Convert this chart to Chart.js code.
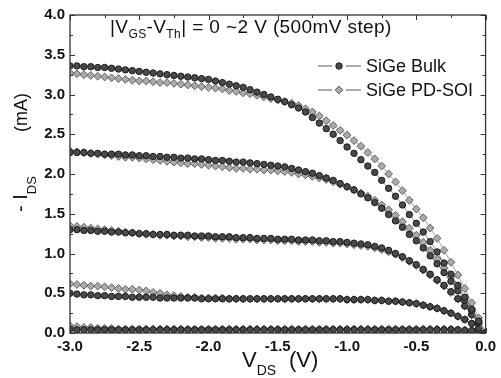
<!DOCTYPE html>
<html>
<head>
<meta charset="utf-8">
<script src="https://cdn.jsdelivr.net/npm/chart.js@4.4.0/dist/chart.umd.min.js"></script>
<style>
  html, body { margin: 0; padding: 0; background: #fff; }
  #wrap { width: 501px; height: 378px; }
</style>
</head>
<body>
<div id="wrap"><canvas id="ivChart" width="501" height="378"></canvas></div>
<script>
// drain voltage sweep (V)
const vds = [
  -3.00,-2.95,-2.90,-2.85,-2.80,-2.75,-2.70,-2.65,-2.60,-2.55,
  -2.50,-2.45,-2.40,-2.35,-2.30,-2.25,-2.20,-2.15,-2.10,-2.05,
  -2.00,-1.95,-1.90,-1.85,-1.80,-1.75,-1.70,-1.65,-1.60,-1.55,
  -1.50,-1.45,-1.40,-1.35,-1.30,-1.25,-1.20,-1.15,-1.10,-1.05,
  -1.00,-0.95,-0.90,-0.85,-0.80,-0.75,-0.70,-0.65,-0.60,-0.55,
  -0.50,-0.45,-0.40,-0.35,-0.30,-0.25,-0.20,-0.15,-0.10,-0.05,
  0.00
];

// -I_DS (mA), SiGe Bulk, |VGS-VTh| = 2.0 / 1.5 / 1.0 / 0.5 / 0 V
const bulk20 = [
  3.36,3.36,3.35,3.35,3.34,3.34,3.33,3.32,3.31,3.30,
  3.29,3.28,3.27,3.26,3.25,3.24,3.23,3.22,3.21,3.20,
  3.19,3.17,3.15,3.13,3.11,3.09,3.06,3.03,3.00,2.97,
  2.94,2.91,2.87,2.83,2.78,2.71,2.64,2.57,2.50,2.42,
  2.34,2.26,2.18,2.10,2.02,1.92,1.82,1.72,1.61,1.49,
  1.38,1.27,1.15,1.02,0.88,0.74,0.60,0.45,0.30,0.15,
  0.00
];
const bulk15 = [
  2.27,2.27,2.27,2.26,2.26,2.25,2.25,2.25,2.24,2.24,
  2.23,2.23,2.22,2.22,2.21,2.21,2.20,2.20,2.19,2.19,
  2.18,2.17,2.17,2.16,2.15,2.15,2.14,2.13,2.12,2.11,
  2.10,2.09,2.07,2.05,2.03,2.01,1.98,1.95,1.92,1.88,
  1.84,1.80,1.75,1.70,1.64,1.57,1.49,1.41,1.33,1.24,
  1.16,1.07,0.97,0.87,0.76,0.65,0.53,0.41,0.28,0.14,
  0.00
];
const bulk10 = [
  1.30,1.30,1.29,1.29,1.28,1.28,1.27,1.27,1.26,1.26,
  1.25,1.25,1.24,1.24,1.24,1.23,1.23,1.23,1.22,1.22,
  1.22,1.21,1.21,1.21,1.20,1.20,1.20,1.19,1.19,1.19,
  1.18,1.18,1.18,1.17,1.17,1.17,1.16,1.16,1.15,1.15,
  1.14,1.13,1.12,1.11,1.09,1.07,1.04,1.00,0.96,0.91,
  0.86,0.80,0.74,0.67,0.60,0.52,0.43,0.34,0.23,0.12,
  0.00
];
const bulk05 = [
  0.50,0.49,0.48,0.48,0.47,0.47,0.46,0.46,0.46,0.45,
  0.45,0.45,0.45,0.44,0.44,0.44,0.44,0.44,0.44,0.43,
  0.43,0.43,0.43,0.43,0.43,0.43,0.43,0.43,0.43,0.43,
  0.43,0.43,0.43,0.43,0.43,0.43,0.43,0.43,0.43,0.43,
  0.42,0.42,0.42,0.42,0.41,0.41,0.40,0.40,0.39,0.38,
  0.37,0.35,0.33,0.31,0.28,0.25,0.21,0.17,0.12,0.06,
  0.00
];
const bulk00 = [
  0.05,0.04,0.04,0.04,0.04,0.04,0.04,0.04,0.04,0.04,
  0.04,0.04,0.04,0.04,0.04,0.04,0.04,0.04,0.04,0.04,
  0.04,0.04,0.04,0.04,0.04,0.04,0.04,0.04,0.04,0.04,
  0.04,0.04,0.04,0.04,0.04,0.04,0.04,0.04,0.04,0.04,
  0.04,0.04,0.04,0.04,0.04,0.04,0.04,0.04,0.04,0.04,
  0.04,0.04,0.04,0.04,0.04,0.04,0.04,0.03,0.03,0.02,
  0.00
];

// -I_DS (mA), SiGe PD-SOI
const soi20 = [
  3.27,3.26,3.25,3.24,3.23,3.22,3.21,3.20,3.19,3.18,
  3.17,3.17,3.16,3.15,3.15,3.14,3.13,3.12,3.11,3.10,
  3.09,3.08,3.07,3.05,3.04,3.02,3.01,2.99,2.97,2.95,
  2.93,2.91,2.89,2.86,2.82,2.78,2.73,2.67,2.61,2.55,
  2.49,2.42,2.35,2.27,2.19,2.10,2.00,1.90,1.79,1.67,
  1.56,1.45,1.32,1.19,1.04,0.89,0.73,0.56,0.38,0.19,
  0.00
];
const soi15 = [
  2.29,2.28,2.27,2.26,2.25,2.24,2.23,2.22,2.21,2.21,
  2.20,2.19,2.18,2.17,2.16,2.15,2.14,2.13,2.13,2.12,
  2.11,2.10,2.09,2.08,2.07,2.07,2.06,2.06,2.05,2.05,
  2.04,2.03,2.02,2.00,1.99,1.97,1.95,1.93,1.90,1.87,
  1.84,1.80,1.76,1.72,1.67,1.61,1.55,1.48,1.40,1.32,
  1.23,1.14,1.04,0.93,0.82,0.70,0.57,0.44,0.30,0.15,
  0.00
];
const soi10 = [
  1.35,1.34,1.33,1.32,1.31,1.30,1.29,1.28,1.27,1.26,
  1.25,1.24,1.24,1.23,1.23,1.22,1.22,1.21,1.21,1.20,
  1.20,1.19,1.19,1.19,1.18,1.18,1.18,1.17,1.17,1.17,
  1.16,1.16,1.16,1.15,1.15,1.15,1.14,1.14,1.13,1.13,
  1.12,1.11,1.10,1.09,1.07,1.05,1.02,0.99,0.95,0.90,
  0.85,0.79,0.73,0.66,0.59,0.51,0.43,0.34,0.23,0.12,
  0.00
];
const soi05 = [
  0.62,0.61,0.60,0.59,0.59,0.58,0.57,0.56,0.55,0.55,
  0.54,0.53,0.51,0.50,0.48,0.47,0.46,0.45,0.45,0.44,
  0.44,0.44,0.44,0.43,0.43,0.43,0.43,0.43,0.43,0.43,
  0.43,0.43,0.43,0.43,0.43,0.43,0.43,0.43,0.43,0.43,
  0.42,0.42,0.42,0.42,0.41,0.41,0.40,0.40,0.39,0.38,
  0.37,0.35,0.33,0.31,0.28,0.25,0.21,0.17,0.12,0.06,
  0.00
];
const soi00 = [
  0.09,0.08,0.07,0.07,0.06,0.06,0.06,0.05,0.05,0.05,
  0.05,0.05,0.05,0.05,0.05,0.05,0.05,0.05,0.05,0.05,
  0.05,0.05,0.05,0.05,0.05,0.05,0.05,0.05,0.05,0.05,
  0.05,0.05,0.05,0.05,0.05,0.05,0.05,0.05,0.05,0.05,
  0.05,0.05,0.05,0.05,0.05,0.05,0.05,0.05,0.05,0.05,
  0.05,0.05,0.05,0.05,0.05,0.05,0.04,0.04,0.03,0.02,
  0.00
];

const seriesNames = ['SiGe Bulk', 'SiGe PD-SOI'];
const bulkCurves = [bulk20, bulk15, bulk10, bulk05, bulk00];
const soiCurves = [soi20, soi15, soi10, soi05, soi00];

const FONT = '"Liberation Sans", Arial, sans-serif';

function toPoints(values) {
  return values.map((v, i) => ({ x: vds[i], y: v }));
}

const bulkStyle = {
  pointStyle: 'circle', pointRadius: 3.2,
  pointBackgroundColor: '#4a4a4a', pointBorderColor: '#1a1a1a', pointBorderWidth: 1,
  borderColor: '#777', borderWidth: 0.8, showLine: true
};
const soiStyle = {
  pointStyle: 'rectRot', pointRadius: 3.9,
  pointBackgroundColor: '#aaaaaa', pointBorderColor: '#606060', pointBorderWidth: 1,
  borderColor: '#888', borderWidth: 0.8, showLine: true
};

const datasets = [];
bulkCurves.forEach(c => datasets.push(Object.assign({ label: seriesNames[0], data: toPoints(c) }, bulkStyle)));
soiCurves.forEach(c => datasets.push(Object.assign({ label: seriesNames[1], data: toPoints(c) }, soiStyle)));

// frame + inward ticks on all four sides
const frameTicks = {
  id: 'frameTicks',
  afterDatasetsDraw(chart) {
    const { ctx, chartArea: a, scales: { x, y } } = chart;
    ctx.save();
    ctx.strokeStyle = '#333';
    ctx.lineWidth = 1.3;
    ctx.strokeRect(a.left, a.top, a.right - a.left, a.bottom - a.top);
    ctx.lineWidth = 1;
    ctx.beginPath();
    for (let v = 0; v <= 4.001; v += 0.25) {
      const py = Math.round(y.getPixelForValue(v)) + 0.5;
      const len = (Math.round(v * 4) % 2 === 0) ? 5 : 3;
      ctx.moveTo(a.left, py); ctx.lineTo(a.left + len, py);
      ctx.moveTo(a.right, py); ctx.lineTo(a.right - len, py);
    }
    for (let v = -3; v <= 0.001; v += 0.25) {
      const px = Math.round(x.getPixelForValue(v)) + 0.5;
      const len = (Math.round(v * 4) % 2 === 0) ? 5 : 3;
      ctx.moveTo(px, a.bottom); ctx.lineTo(px, a.bottom - len);
      ctx.moveTo(px, a.top); ctx.lineTo(px, a.top + len);
    }
    ctx.stroke();
    ctx.restore();
  }
};

// draw a run of text pieces, some as subscripts
function drawRuns(ctx, x, y, runs) {
  runs.forEach(r => {
    ctx.font = r.font;
    ctx.fillText(r.t, x, y + (r.dy || 0));
    x += ctx.measureText(r.t).width;
  });
}

const labels = {
  id: 'labels',
  afterDraw(chart) {
    const { ctx, chartArea: a } = chart;
    ctx.save();
    ctx.fillStyle = '#111';
    ctx.textBaseline = 'alphabetic';
    ctx.textAlign = 'left';

    // header inside the plot
    const big = '19px ' + FONT, sub = '12px ' + FONT;
    ctx.letterSpacing = '0.4px';
    drawRuns(ctx, a.left + 40, 33, [
      { t: '|V', font: big }, { t: 'GS', font: sub, dy: 5 },
      { t: '-V', font: big }, { t: 'Th', font: sub, dy: 5 },
      { t: '| = 0 ~2 V (500mV step)', font: big }
    ]);
    ctx.letterSpacing = '0px';

    // legend
    const rows = [{ y: 66, style: bulkStyle }, { y: 90, style: soiStyle }];
    rows.forEach((r, i) => {
      const cx = 339;
      ctx.strokeStyle = '#555';
      ctx.lineWidth = 1;
      ctx.beginPath();
      ctx.moveTo(318, r.y); ctx.lineTo(332, r.y);
      ctx.moveTo(346, r.y); ctx.lineTo(361, r.y);
      ctx.stroke();
      ctx.fillStyle = r.style.pointBackgroundColor;
      ctx.strokeStyle = r.style.pointBorderColor;
      ctx.beginPath();
      if (r.style.pointStyle === 'circle') {
        ctx.arc(cx, r.y, r.style.pointRadius, 0, Math.PI * 2);
      } else {
        const s = r.style.pointRadius;
        ctx.moveTo(cx, r.y - s); ctx.lineTo(cx + s, r.y);
        ctx.lineTo(cx, r.y + s); ctx.lineTo(cx - s, r.y);
        ctx.closePath();
      }
      ctx.fill(); ctx.stroke();
      ctx.fillStyle = '#111';
      ctx.font = '18px ' + FONT;
      ctx.textBaseline = 'middle';
      ctx.fillText(seriesNames[i], 366, r.y + 1);
      ctx.textBaseline = 'alphabetic';
    });

    // x axis title
    drawRuns(ctx, 242, 367, [
      { t: 'V', font: '22px ' + FONT }, { t: 'DS', font: '14px ' + FONT, dy: 8 }
    ]);
    ctx.font = '22px ' + FONT;
    ctx.fillText('(V)', 289, 367);

    // y axis title, rotated
    ctx.translate(27, 212);
    ctx.rotate(-Math.PI / 2);
    drawRuns(ctx, 0, 0, [
      { t: '- I', font: '20px ' + FONT }, { t: 'DS', font: '13px ' + FONT, dy: 9 }
    ]);
    ctx.font = '18px ' + FONT;
    ctx.fillText('(mA)', 80, 0);
    ctx.restore();
  }
};

const chart = new Chart(document.getElementById('ivChart'), {
  type: 'scatter',
  data: { datasets: datasets },
  options: {
    responsive: false,
    animation: false,
    layout: { padding: { top: 15, right: 13, left: 0, bottom: 0 } },
    plugins: { legend: { display: false }, tooltip: { enabled: false } },
    scales: {
      x: {
        type: 'linear', min: -3, max: 0,
        grid: { display: false, drawTicks: false },
        border: { display: false },
        ticks: {
          stepSize: 0.5, padding: 5, color: '#111',
          font: { family: FONT, size: 15, weight: 'bold' },
          callback: v => v.toFixed(1)
        },
        afterFit: s => { s.height = 45; }
      },
      y: {
        type: 'linear', min: 0, max: 4,
        grid: { display: false, drawTicks: false },
        border: { display: false },
        ticks: {
          stepSize: 0.5, padding: 5, color: '#111',
          font: { family: FONT, size: 15, weight: 'bold' },
          callback: v => v.toFixed(1)
        },
        afterFit: s => { s.width = 70; }
      }
    }
  },
  plugins: [frameTicks, labels]
});
</script>
</body>
</html>
